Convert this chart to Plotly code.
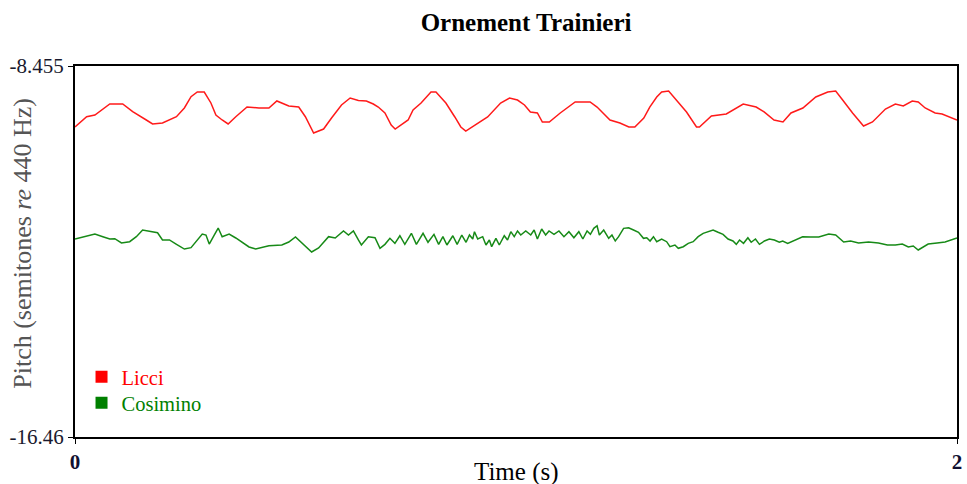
import plotly.graph_objects as go

# ---------------- data ----------------
licci_t = [0.0000, 0.0264, 0.0451, 0.0789, 0.1082, 0.1308, 0.1617, 0.1759, 0.1984, 0.2300,
           0.2480, 0.2631, 0.2773, 0.2931, 0.3082, 0.3195, 0.3337, 0.3472, 0.3646, 0.3901,
           0.4171, 0.4397, 0.4577, 0.4848, 0.5073, 0.5224, 0.5411, 0.5637, 0.5817, 0.6043,
           0.6239, 0.6426, 0.6607, 0.6764, 0.6877, 0.7028, 0.7170, 0.7260, 0.7554, 0.7666,
           0.7847, 0.8072, 0.8185, 0.8410, 0.8613, 0.8749, 0.8861, 0.9064, 0.9357, 0.9651,
           0.9853, 1.0034, 1.0192, 1.0327, 1.0485, 1.0598, 1.0755, 1.1003, 1.1342, 1.1680,
           1.1838, 1.2131, 1.2356, 1.2559, 1.2695, 1.2898, 1.3033, 1.3191, 1.3303, 1.3461,
           1.3642, 1.3867, 1.4093, 1.4160, 1.4431, 1.4769, 1.5152, 1.5446, 1.5626, 1.5851,
           1.6054, 1.6235, 1.6505, 1.6798, 1.7069, 1.7249, 1.7407, 1.7632, 1.7881, 1.8084,
           1.8377, 1.8602, 1.8782, 1.8985, 1.9121, 1.9278, 1.9504, 1.9662, 2.0000]
licci_p = [-9.771, -9.549, -9.512, -9.275, -9.275, -9.441, -9.620, -9.706, -9.685, -9.549,
           -9.361, -9.117, -9.016, -9.016, -9.253, -9.512, -9.620, -9.706, -9.549, -9.340,
           -9.361, -9.361, -9.210, -9.318, -9.340, -9.549, -9.901, -9.815, -9.577, -9.296,
           -9.145, -9.199, -9.210, -9.275, -9.340, -9.469, -9.728, -9.815, -9.620, -9.404,
           -9.253, -9.016, -9.016, -9.253, -9.555, -9.771, -9.858, -9.728, -9.555, -9.253,
           -9.145, -9.189, -9.296, -9.447, -9.469, -9.663, -9.663, -9.469, -9.232, -9.232,
           -9.340, -9.620, -9.685, -9.771, -9.771, -9.577, -9.340, -9.124, -9.016, -8.994,
           -9.189, -9.447, -9.771, -9.771, -9.534, -9.491, -9.275, -9.340, -9.447, -9.620,
           -9.663, -9.469, -9.361, -9.124, -9.016, -8.994, -9.189, -9.469, -9.750, -9.663,
           -9.383, -9.275, -9.318, -9.210, -9.232, -9.361, -9.469, -9.491, -9.620]

cosimino_t = [0.0000, 0.0264, 0.0451, 0.0631, 0.0789, 0.0902, 0.1053, 0.1240, 0.1391, 0.1533,
              0.1729, 0.1872, 0.1984, 0.2142, 0.2293, 0.2480, 0.2631, 0.2773, 0.2886, 0.2970,
              0.3044, 0.3157, 0.3247, 0.3337, 0.3495, 0.3646, 0.3946, 0.4097, 0.4397, 0.4690,
              0.4848, 0.4999, 0.5141, 0.5366, 0.5524, 0.5750, 0.5901, 0.6088, 0.6201, 0.6313,
              0.6426, 0.6494, 0.6652, 0.6803, 0.6916, 0.7028, 0.7141, 0.7254, 0.7367, 0.7479,
              0.7628, 0.7741, 0.7892, 0.8005, 0.8140, 0.8246, 0.8343, 0.8433, 0.8568, 0.8665,
              0.8771, 0.8868, 0.8945, 0.9019, 0.9058, 0.9132, 0.9245, 0.9319, 0.9396, 0.9448,
              0.9545, 0.9621, 0.9734, 0.9808, 0.9883, 0.9960, 1.0034, 1.0108, 1.0221, 1.0334,
              1.0411, 1.0485, 1.0582, 1.0672, 1.0749, 1.0862, 1.0974, 1.1087, 1.1200, 1.1313,
              1.1425, 1.1516, 1.1612, 1.1687, 1.1764, 1.1838, 1.1890, 1.1989, 1.2102, 1.2176,
              1.2251, 1.2327, 1.2440, 1.2553, 1.2665, 1.2778, 1.2891, 1.2965, 1.3040, 1.3117,
              1.3191, 1.3303, 1.3416, 1.3491, 1.3604, 1.3680, 1.3793, 1.3906, 1.4018, 1.4131,
              1.4244, 1.4357, 1.4469, 1.4582, 1.4695, 1.4808, 1.4920, 1.4995, 1.5069, 1.5159,
              1.5258, 1.5333, 1.5430, 1.5520, 1.5633, 1.5745, 1.5858, 1.5971, 1.6048, 1.6160,
              1.6273, 1.6386, 1.6499, 1.6686, 1.6866, 1.7092, 1.7249, 1.7430, 1.7588, 1.7768,
              1.7994, 1.8219, 1.8422, 1.8602, 1.8760, 1.8895, 1.9008, 1.9121, 1.9346, 1.9549,
              1.9730, 2.0000]
cosimino_p = [-12.188, -12.117, -12.080, -12.138, -12.188, -12.181, -12.274, -12.246, -12.138, -11.994,
              -12.030, -12.052, -12.209, -12.209, -12.296, -12.404, -12.375, -12.209, -12.080, -12.102,
              -12.296, -12.102, -11.951, -12.138, -12.080, -12.166, -12.360, -12.404, -12.332, -12.317,
              -12.252, -12.145, -12.274, -12.468, -12.382, -12.138, -12.166, -12.015, -12.102, -12.015,
              -12.209, -12.317, -12.138, -12.160, -12.389, -12.303, -12.173, -12.281, -12.117, -12.303,
              -12.065, -12.303, -12.065, -12.259, -12.087, -12.303, -12.138, -12.317, -12.117, -12.303,
              -12.102, -12.259, -12.102, -12.188, -12.030, -12.188, -12.138, -12.317, -12.209, -12.354,
              -12.173, -12.317, -12.117, -12.209, -12.030, -12.138, -12.015, -12.102, -12.015, -12.102,
              -11.994, -12.188, -11.972, -12.102, -12.015, -12.087, -12.015, -12.138, -12.030, -12.160,
              -12.030, -12.188, -12.015, -12.087, -11.958, -11.901, -12.102, -11.994, -12.173, -12.102,
              -12.231, -12.138, -11.958, -11.945, -11.994, -12.043, -12.173, -12.160, -12.231, -12.138,
              -12.246, -12.188, -12.246, -12.354, -12.317, -12.389, -12.354, -12.281, -12.246, -12.138,
              -12.065, -12.030, -11.994, -12.043, -12.087, -12.188, -12.231, -12.303, -12.209, -12.281,
              -12.160, -12.259, -12.188, -12.303, -12.231, -12.188, -12.209, -12.259, -12.231, -12.281,
              -12.231, -12.188, -12.138, -12.145, -12.145, -12.080, -12.102, -12.252, -12.231, -12.274,
              -12.252, -12.274, -12.317, -12.317, -12.296, -12.360, -12.339, -12.425, -12.296, -12.274,
              -12.252, -12.166]

y_min, y_max = -16.46, -8.455
y_tick_labels = ["-16.46", "-8.455"]
x_min, x_max = 0, 2
x_tick_labels = ["<b>0</b>", "<b>2</b>"]

RED = "#ff1a1a"
GREEN = "#178a17"
FONT = "Liberation Serif"

fig = go.Figure()
fig.add_trace(go.Scatter(x=licci_t, y=licci_p, mode="lines", line=dict(color=RED, width=1.5),
                         showlegend=False))
fig.add_trace(go.Scatter(x=cosimino_t, y=cosimino_p, mode="lines", line=dict(color=GREEN, width=1.5),
                         showlegend=False))
# legend entries (square swatches), one per legend for exact placement
fig.add_trace(go.Scatter(x=[None], y=[None], mode="markers",
                         marker=dict(symbol="square", size=9, color="#ff0000"),
                         name='<span style="color:#ff0000">Licci</span>', legend="legend"))
fig.add_trace(go.Scatter(x=[None], y=[None], mode="markers",
                         marker=dict(symbol="square", size=9, color="#008000"),
                         name='<span style="color:#008000">Cosimino</span>', legend="legend2"))

legend_common = dict(xanchor="left", yanchor="top", bgcolor="rgba(0,0,0,0)",
                     font=dict(family=FONT, size=20.5), itemsizing="constant", itemwidth=30)

fig.update_layout(
    width=967, height=484,
    margin=dict(l=75, r=5, t=66, b=47),
    paper_bgcolor="white", plot_bgcolor="white",
    font=dict(family=FONT, size=20, color="#1a1a2e"),
    title=dict(text="<b>Ornement Trainieri</b>", x=0.544, xref="container", xanchor="center",
               y=0.955, yref="container", yanchor="middle",
               font=dict(family=FONT, size=25, color="black")),
    xaxis=dict(range=[x_min, x_max], tickvals=[x_min, x_max], ticktext=x_tick_labels,
               showgrid=False, zeroline=False, showline=True, mirror=True,
               linecolor="black", linewidth=2, ticks="outside", ticklen=5,
               tickcolor="black", tickfont=dict(family=FONT, size=21, color="#101030")),
    yaxis=dict(range=[y_min, y_max], tickvals=[y_min, y_max], ticktext=y_tick_labels,
               showgrid=False, zeroline=False, showline=True, mirror=True,
               linecolor="black", linewidth=2, ticks="outside", ticklen=5,
               tickcolor="black", tickfont=dict(family=FONT, size=21, color="#1a1a2e")),
    legend=dict(x=0.0074, y=0.2156, **legend_common),
    legend2=dict(x=0.0074, y=0.1456, **legend_common),
    showlegend=True,
)

fig.add_annotation(text="Pitch (semitones <i>re</i> 440 Hz)", xref="paper", yref="paper",
                   x=-0.0598, y=0.5216, textangle=-90, showarrow=False,
                   font=dict(family=FONT, size=26, color="#555555"),
                   xanchor="center", yanchor="middle")
fig.add_annotation(text="Time (s)", xref="paper", yref="paper",
                   x=0.5, y=-0.094, showarrow=False,
                   font=dict(family=FONT, size=25, color="black"),
                   xanchor="center", yanchor="middle")

fig.write_html("out.html")
